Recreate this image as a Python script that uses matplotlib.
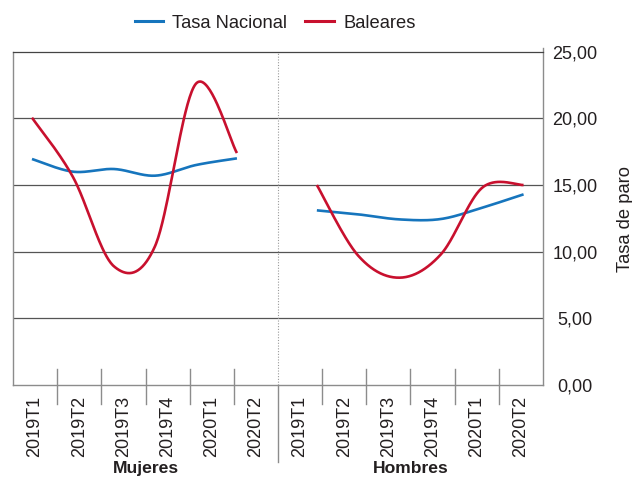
import numpy as np
import matplotlib
matplotlib.use("Agg")
from matplotlib import pyplot as plt
import matplotlib.transforms as mtransforms

#datos
trimestres = ["2019T1", "2019T2", "2019T3", "2019T4", "2020T1", "2020T2"]
grupos = ["Mujeres", "Hombres"]
nacional_mujeres = [16.95, 16.0, 16.2, 15.7, 16.5, 17.0]
baleares_mujeres = [20.05, 15.6, 8.9, 10.4, 22.6, 17.4]
nacional_hombres = [13.1, 12.8, 12.42, 12.45, 13.3, 14.3]
baleares_hombres = [15.0, 9.7, 8.05, 9.8, 14.8, 15.0]
#posicion (en unidades de categoria) de la primera y ultima observacion de cada grupo
rango_mujeres = (-0.07, 4.57)
rango_hombres = (6.38, 11.06)
yticks = [0, 5, 10, 15, 20, 25]

AZUL = "#1675bd"
ROJO = "#c8102e"
GRIS = "#8c8c8c"
TEXTO = "#231f20"
FUENTE = ["Liberation Sans", "DejaVu Sans"]
FUENTE_ESTRECHA = ["Liberation Sans Narrow", "Liberation Sans", "DejaVu Sans"]


#curva suavizada tipo Catmull-Rom (como el "suavizado" de Excel)
def suavizar(x, y, n=40):
    x = np.asarray(x, float)
    y = np.asarray(y, float)
    px = np.concatenate([[x[0]], x, [x[-1]]])
    py = np.concatenate([[y[0]], y, [y[-1]]])
    t = np.linspace(0, 1, n)
    h00 = 2 * t**3 - 3 * t**2 + 1
    h10 = t**3 - 2 * t**2 + t
    h01 = -2 * t**3 + 3 * t**2
    h11 = t**3 - t**2
    xs, ys = [], []
    for i in range(len(x) - 1):
        for p, out in ((px, xs), (py, ys)):
            p0, p1 = p[i + 1], p[i + 2]
            m0 = (p[i + 2] - p[i]) / 2
            m1 = (p[i + 3] - p[i + 1]) / 2
            out.append(h00 * p0 + h10 * m0 + h01 * p1 + h11 * m1)
    return np.concatenate(xs), np.concatenate(ys)


plt.rcParams['font.family'] = FUENTE
fig = plt.figure(figsize=(6.32, 4.78), dpi=100)
ax = fig.add_axes([13 / 632, 93 / 478, 530 / 632, 333.3 / 478])

x_muj = np.linspace(rango_mujeres[0], rango_mujeres[1], len(trimestres))
x_hom = np.linspace(rango_hombres[0], rango_hombres[1], len(trimestres))

for xv, nac, bal in ((x_muj, nacional_mujeres, baleares_mujeres),
                     (x_hom, nacional_hombres, baleares_hombres)):
    xs, ys = suavizar(xv, nac)
    ax.plot(xs, ys, color=AZUL, lw=1.9, solid_capstyle='butt', zorder=3)
    xs, ys = suavizar(xv, bal)
    ax.plot(xs, ys, color=ROJO, lw=1.9, solid_capstyle='butt', zorder=3)

ax.set_xlim(-0.5, 11.5)
ax.set_ylim(0, 25)

#rejilla horizontal
for v in yticks[1:-1]:
    ax.axhline(v, color="#555555", lw=0.9, zorder=1)

for s in ("left", "right", "bottom"):
    ax.spines[s].set_color(GRIS)
    ax.spines[s].set_linewidth(1.0)
ax.spines["right"].set_bounds(0, 25.25)
ax.spines["top"].set_color("#444444")
ax.spines["top"].set_linewidth(0.9)

#eje y a la derecha con coma decimal
ax.yaxis.tick_right()
ax.set_yticks(yticks)
ax.set_yticklabels([f"{v:.2f}".replace(".", ",") for v in yticks])
ax.tick_params(axis='y', length=0, pad=23, labelsize=13, labelcolor=TEXTO)
for lab in ax.get_yticklabels():
    lab.set_horizontalalignment('center')
    lab.set_family(FUENTE_ESTRECHA)

#categorias
ax.set_xticks(range(2 * len(trimestres)))
ax.set_xticklabels(trimestres * 2, rotation=90)
ax.tick_params(axis='x', length=0, pad=7.5, labelsize=13, labelcolor=TEXTO)
for lab in ax.get_xticklabels():
    lab.set_family(FUENTE_ESTRECHA)

trans = mtransforms.blended_transform_factory(ax.transData, ax.transAxes)
for b in np.arange(0.5, 11.5, 1.0):
    if b == 5.5:
        ax.plot([b, b], [0, -0.232], color=GRIS, lw=1.0, transform=trans,
                clip_on=False)
        ax.plot([b, b], [0, 1], color="#9a9a9a", lw=0.8, ls=(0, (1, 1.5)),
                transform=trans, clip_on=False)
    else:
        ax.plot([b, b], [0.048, -0.057], color=GRIS, lw=1.0, transform=trans,
                clip_on=False)

ax.text(2.5, -0.251, grupos[0], transform=trans, ha='center', va='center',
        fontsize=12.6, fontweight='bold', color=TEXTO)
ax.text(8.5, -0.251, grupos[1], transform=trans, ha='center', va='center',
        fontsize=12.6, fontweight='bold', color=TEXTO)

fig.text(625 / 632, 1 - 219 / 478, "Tasa de paro", rotation=90,
         ha='center', va='center', fontsize=13.2, color=TEXTO)

#leyenda
h1, = ax.plot([], [], color=AZUL, lw=2.2)
h2, = ax.plot([], [], color=ROJO, lw=2.2)
fig.legend([h1, h2], ["Tasa Nacional", "Baleares"], loc='center',
           bbox_to_anchor=(275 / 632, 1 - 23 / 478), ncol=2, frameon=False,
           fontsize=13.2, handlelength=1.55, handletextpad=0.5,
           columnspacing=1.0, labelcolor=TEXTO)

plt.savefig("out.png", dpi=100)
